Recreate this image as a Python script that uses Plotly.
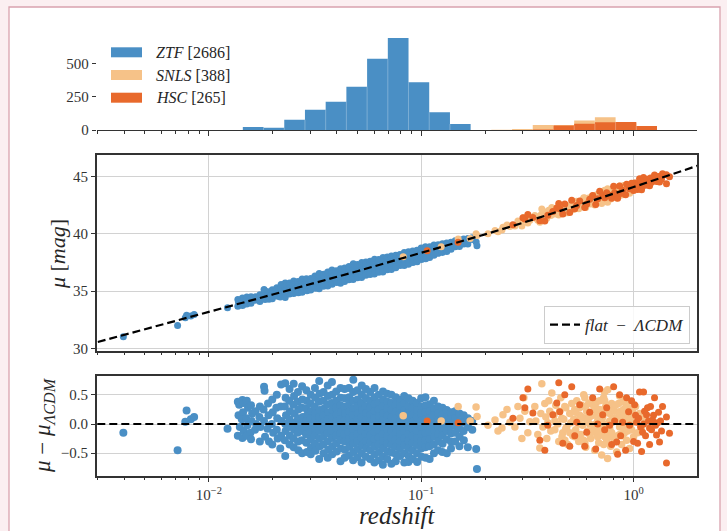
import plotly.graph_objects as go

# ---------------- data ----------------
survey_names = ["ZTF", "SNLS", "HSC"]
survey_totals = [2686, 388, 265]

# histogram bins (redshift edges) and counts per bin
hist_edges = [0.01446, 0.01810, 0.02266, 0.02836, 0.03550, 0.04444, 0.05563, 0.06964,
              0.08717, 0.1091, 0.1366, 0.1709, 0.2139, 0.2678, 0.3352, 0.4196,
              0.5252, 0.6573, 0.8228, 1.030, 1.289]
ztf_counts = [22, 17, 77, 152, 212, 325, 535, 690, 358, 133, 45, 0, 0, 0, 0, 0, 0, 0, 0, 0]
snls_counts = [0, 0, 0, 0, 0, 0, 0, 0, 0, 0, 0, 0, 2, 8, 37, 37, 72, 95, 55, 8]
hsc_counts = [0, 0, 0, 0, 0, 0, 0, 0, 0, 0, 0, 0, 0, 0, 3, 33, 47, 58, 60, 30]

# flat-LambdaCDM reference curve
model_z = [0.003, 0.005, 0.01, 0.02, 0.05, 0.1, 0.2, 0.3, 0.5, 0.7, 1.0, 1.5, 2.0]
model_mu = [30.55, 31.66, 33.18, 34.70, 36.74, 38.32, 39.96, 40.96, 42.26, 43.15, 44.10, 45.19, 45.96]
residual_reference = 0.0

ztf_z = [
    0.00396, 0.00713, 0.00786, 0.00775, 0.00823, 0.00853, 0.01225,
    0.0137, 0.0139, 0.0138, 0.0140, 0.0137,
    0.0144, 0.0146, 0.0145, 0.0143, 0.0146, 0.0144,
    0.0151, 0.0153, 0.0150, 0.0152, 0.0151,
    0.0158, 0.0160, 0.0159, 0.0157, 0.0158,
    0.0166, 0.0167, 0.0165,
    0.0174, 0.0173, 0.0175, 0.0174,
    0.0182, 0.0183, 0.0181, 0.0182, 0.0184,
    0.0190, 0.0191, 0.0189, 0.0192,
    0.0199, 0.0200, 0.0198, 0.0201, 0.0199,
    0.0209, 0.0208, 0.0210, 0.0209, 0.0211,
    0.0219, 0.0218, 0.0220, 0.0219, 0.0217,
    0.0229, 0.0230, 0.0228, 0.0231, 0.0229, 0.0230, 0.0228, 0.0229,
    0.0240, 0.0239, 0.0241, 0.0240, 0.0238, 0.0241, 0.0240,
    0.0251, 0.0252, 0.0250, 0.0253, 0.0251, 0.0252, 0.0250, 0.0251,
    0.0263, 0.0262, 0.0264, 0.0263, 0.0265, 0.0262, 0.0263, 0.0264,
    0.0275, 0.0276, 0.0274, 0.0277, 0.0275, 0.0276, 0.0274, 0.0275,
    0.0288, 0.0289, 0.0287, 0.0290, 0.0288, 0.0289, 0.0287, 0.0288, 0.0290,
    0.0302, 0.0301, 0.0303, 0.0302, 0.0304, 0.0301, 0.0302, 0.0303, 0.0302,
    0.0316, 0.0317, 0.0315, 0.0318, 0.0316, 0.0317, 0.0315, 0.0316, 0.0318,
    0.0331, 0.0332, 0.0330, 0.0333, 0.0331, 0.0332, 0.0330, 0.0331, 0.0333, 0.0331,
    0.0347, 0.0346, 0.0348, 0.0347, 0.0345, 0.0348, 0.0347, 0.0346, 0.0347,
    0.0363, 0.0364, 0.0362, 0.0365, 0.0363, 0.0364, 0.0362, 0.0363, 0.0365, 0.0363,
    0.0380, 0.0381, 0.0379, 0.0382, 0.0380, 0.0381, 0.0379, 0.0380, 0.0382, 0.0381,
    0.0398, 0.0399, 0.0397, 0.0400, 0.0398, 0.0399, 0.0397, 0.0398, 0.0400,
    0.0417, 0.0418, 0.0416, 0.0419, 0.0417, 0.0418, 0.0416, 0.0417, 0.0419, 0.0417,
    0.0436, 0.0437, 0.0435, 0.0438, 0.0436, 0.0437, 0.0435, 0.0436, 0.0438, 0.0436,
    0.0457, 0.0458, 0.0456, 0.0459, 0.0457, 0.0458, 0.0456, 0.0457, 0.0459, 0.0457,
    0.0479, 0.0478, 0.0480, 0.0479, 0.0477, 0.0480, 0.0479, 0.0478, 0.0480, 0.0479, 0.0478,
    0.0501, 0.0502, 0.0500, 0.0503, 0.0501, 0.0502, 0.0500, 0.0501, 0.0503, 0.0501,
    0.0525, 0.0526, 0.0524, 0.0527, 0.0525, 0.0526, 0.0524, 0.0525, 0.0527, 0.0525, 0.0524,
    0.0549, 0.0550, 0.0548, 0.0551, 0.0549, 0.0550, 0.0548, 0.0549, 0.0551, 0.0549,
    0.0575, 0.0576, 0.0574, 0.0577, 0.0575, 0.0576, 0.0574, 0.0575, 0.0577, 0.0575,
    0.0603, 0.0602, 0.0604, 0.0603, 0.0601, 0.0604, 0.0603, 0.0602, 0.0604, 0.0603, 0.0602,
    0.0631, 0.0632, 0.0630, 0.0633, 0.0631, 0.0632, 0.0630, 0.0631, 0.0633, 0.0631,
    0.0661, 0.0662, 0.0660, 0.0663, 0.0661, 0.0662, 0.0660, 0.0661, 0.0663, 0.0661, 0.0660,
    0.0692, 0.0693, 0.0691, 0.0694, 0.0692, 0.0693, 0.0691, 0.0692, 0.0694, 0.0692,
    0.0724, 0.0725, 0.0723, 0.0726, 0.0724, 0.0725, 0.0723, 0.0724, 0.0726, 0.0724,
    0.0759, 0.0758, 0.0760, 0.0759, 0.0757, 0.0760, 0.0759, 0.0758, 0.0760, 0.0759,
    0.0794, 0.0795, 0.0793, 0.0796, 0.0794, 0.0795, 0.0793, 0.0794, 0.0796,
    0.0832, 0.0833, 0.0831, 0.0834, 0.0832, 0.0833, 0.0831, 0.0832, 0.0834, 0.0832,
    0.0871, 0.0872, 0.0870, 0.0873, 0.0871, 0.0872, 0.0870, 0.0871, 0.0873, 0.0871,
    0.0912, 0.0913, 0.0911, 0.0914, 0.0912, 0.0913, 0.0911, 0.0912, 0.0914,
    0.0955, 0.0956, 0.0954, 0.0957, 0.0955, 0.0956, 0.0954, 0.0955, 0.0957,
    0.1000, 0.1002, 0.0998, 0.1003, 0.1000, 0.1002, 0.0998, 0.1000, 0.1003,
    0.1047, 0.1049, 0.1045, 0.1050, 0.1047, 0.1049, 0.1045, 0.1047, 0.1050,
    0.1096, 0.1098, 0.1094, 0.1099, 0.1096, 0.1098, 0.1094, 0.1096,
    0.1148, 0.1150, 0.1146, 0.1151, 0.1148, 0.1150, 0.1146, 0.1148,
    0.1202, 0.1204, 0.1200, 0.1205, 0.1202, 0.1204, 0.1200,
    0.1259, 0.1261, 0.1257, 0.1262, 0.1259, 0.1261, 0.1257,
    0.1318, 0.1320, 0.1316, 0.1321, 0.1318, 0.1320,
    0.1380, 0.1382, 0.1378, 0.1383, 0.1380, 0.1382,
    0.1445, 0.1447, 0.1443, 0.1448, 0.1445,
    0.1514, 0.1516, 0.1512, 0.1517, 0.1514,
    0.1585, 0.1587, 0.1583, 0.1588,
    0.1660, 0.1662, 0.1658,
    0.1738, 0.1740,
    0.1815, 0.1830,
]
ztf_res = [
    -0.15, -0.45, 0.23, 0.04, 0.08, 0.12, -0.08,
    0.38, 0.33, 0.15, -0.05, -0.20,
    0.41, 0.36, 0.20, 0.08, -0.12, -0.24,
    0.40, 0.28, 0.10, -0.02, -0.20,
    0.32, 0.18, 0.05, -0.15, -0.26,
    0.22, 0.00, -0.10,
    0.30, 0.12, -0.05, -0.30,
    0.64, 0.57, 0.25, 0.05, -0.22,
    0.35, 0.15, -0.08, -0.30,
    0.42, 0.20, 0.00, -0.15, -0.35,
    0.50, 0.28, 0.10, -0.10, -0.25,
    0.68, 0.30, 0.05, -0.20, -0.42,
    0.70, 0.45, 0.30, 0.15, 0.00, -0.12, -0.28, -0.55,
    0.60, 0.40, 0.22, 0.08, -0.05, -0.20, -0.35,
    0.69, 0.48, 0.33, 0.18, 0.02, -0.10, -0.25, -0.40,
    0.55, 0.38, 0.25, 0.10, -0.02, -0.15, -0.30, -0.45,
    0.65, 0.42, 0.28, 0.12, 0.00, -0.12, -0.28, -0.50,
    0.58, 0.40, 0.27, 0.15, 0.05, -0.06, -0.18, -0.32, -0.48,
    0.50, 0.35, 0.22, 0.10, -0.02, -0.14, -0.26, -0.40, -0.52,
    0.62, 0.45, 0.30, 0.18, 0.06, -0.08, -0.20, -0.34, -0.46,
    0.74, 0.52, 0.38, 0.24, 0.12, 0.00, -0.12, -0.25, -0.38, -0.60,
    0.55, 0.40, 0.26, 0.14, 0.02, -0.10, -0.22, -0.35, -0.50,
    0.66, 0.48, 0.34, 0.20, 0.08, -0.04, -0.16, -0.30, -0.44, -0.58,
    0.72, 0.50, 0.36, 0.24, 0.12, 0.00, -0.12, -0.24, -0.38, -0.52,
    0.56, 0.40, 0.28, 0.16, 0.04, -0.08, -0.20, -0.33, -0.47,
    0.62, 0.45, 0.32, 0.20, 0.08, -0.04, -0.16, -0.28, -0.42, -0.64,
    0.60, 0.44, 0.30, 0.18, 0.06, -0.06, -0.18, -0.30, -0.44, -0.58,
    0.62, 0.46, 0.33, 0.21, 0.10, -0.02, -0.14, -0.26, -0.39, -0.54,
    0.76, 0.55, 0.40, 0.27, 0.15, 0.03, -0.09, -0.21, -0.34, -0.48, -0.62,
    0.58, 0.42, 0.30, 0.18, 0.06, -0.06, -0.18, -0.30, -0.43, -0.57,
    0.66, 0.50, 0.36, 0.24, 0.12, 0.00, -0.12, -0.24, -0.37, -0.50, -0.66,
    0.60, 0.44, 0.31, 0.19, 0.07, -0.05, -0.17, -0.29, -0.42, -0.56,
    0.55, 0.40, 0.28, 0.16, 0.04, -0.08, -0.20, -0.32, -0.45, -0.60,
    0.62, 0.46, 0.34, 0.22, 0.10, -0.02, -0.14, -0.26, -0.38, -0.52, -0.66,
    0.50, 0.37, 0.25, 0.13, 0.01, -0.11, -0.23, -0.35, -0.48, -0.62,
    0.56, 0.42, 0.30, 0.18, 0.06, -0.06, -0.18, -0.30, -0.42, -0.56, -0.70,
    0.52, 0.38, 0.26, 0.14, 0.02, -0.10, -0.22, -0.34, -0.47, -0.60,
    0.50, 0.36, 0.24, 0.12, 0.00, -0.12, -0.24, -0.36, -0.49, -0.68,
    0.46, 0.33, 0.21, 0.09, -0.03, -0.15, -0.27, -0.39, -0.52, -0.64,
    0.42, 0.30, 0.18, 0.06, -0.06, -0.18, -0.30, -0.42, -0.55,
    0.48, 0.35, 0.23, 0.11, -0.01, -0.13, -0.25, -0.37, -0.50, -0.66,
    0.44, 0.31, 0.19, 0.07, -0.05, -0.17, -0.29, -0.41, -0.55, -0.65,
    0.40, 0.28, 0.16, 0.04, -0.08, -0.20, -0.32, -0.45, -0.60,
    0.36, 0.24, 0.12, 0.00, -0.12, -0.24, -0.36, -0.50, -0.65,
    0.44, 0.30, 0.18, 0.06, -0.06, -0.18, -0.30, -0.42, -0.56,
    0.46, 0.32, 0.20, 0.08, -0.04, -0.16, -0.28, -0.40, -0.58,
    0.34, 0.22, 0.10, -0.02, -0.14, -0.26, -0.38, -0.60,
    0.40, 0.26, 0.14, 0.02, -0.10, -0.22, -0.35, -0.50,
    0.30, 0.18, 0.06, -0.06, -0.18, -0.30, -0.45,
    0.28, 0.16, 0.04, -0.08, -0.20, -0.34, -0.48,
    0.24, 0.12, 0.00, -0.12, -0.26, -0.50,
    0.20, 0.08, -0.04, -0.16, -0.30, -0.42,
    0.22, 0.10, -0.02, -0.15, -0.30,
    0.18, 0.05, -0.08, -0.22, -0.38,
    0.15, 0.02, -0.12, -0.28,
    0.10, -0.05, -0.40,
    0.05, -0.10,
    -0.43, -0.77,
]
ztf_mu = [
    31.01, 31.99, 32.88, 32.66, 32.83, 32.95, 33.54,
    34.26, 34.21, 34.03, 33.83, 33.68,
    34.39, 34.34, 34.18, 34.06, 33.86, 33.74,
    34.48, 34.36, 34.18, 34.06, 33.88,
    34.51, 34.37, 34.24, 34.04, 33.93,
    34.51, 34.29, 34.19,
    34.69, 34.51, 34.34, 34.09,
    35.13, 35.06, 34.74, 34.54, 34.27,
    34.94, 34.74, 34.51, 34.29,
    35.11, 34.89, 34.69, 34.54, 34.34,
    35.29, 35.07, 34.89, 34.69, 34.54,
    35.58, 35.20, 34.95, 34.70, 34.48,
    35.70, 35.45, 35.30, 35.15, 35.00, 34.88, 34.72, 34.45,
    35.70, 35.50, 35.32, 35.18, 35.05, 34.90, 34.75,
    35.89, 35.68, 35.53, 35.38, 35.22, 35.10, 34.95, 34.80,
    35.85, 35.68, 35.55, 35.40, 35.28, 35.15, 35.00, 34.85,
    36.05, 35.82, 35.68, 35.52, 35.40, 35.28, 35.12, 34.90,
    36.09, 35.91, 35.78, 35.66, 35.56, 35.45, 35.33, 35.19, 35.03,
    36.11, 35.96, 35.83, 35.71, 35.59, 35.47, 35.35, 35.21, 35.09,
    36.33, 36.16, 36.01, 35.89, 35.77, 35.63, 35.51, 35.37, 35.25,
    36.55, 36.33, 36.19, 36.05, 35.93, 35.81, 35.69, 35.56, 35.43, 35.21,
    36.47, 36.32, 36.18, 36.06, 35.94, 35.82, 35.70, 35.57, 35.42,
    36.68, 36.50, 36.36, 36.22, 36.10, 35.98, 35.86, 35.72, 35.58, 35.44,
    36.84, 36.62, 36.48, 36.36, 36.24, 36.12, 36.00, 35.88, 35.74, 35.60,
    36.78, 36.62, 36.50, 36.38, 36.26, 36.14, 36.02, 35.89, 35.75,
    36.95, 36.78, 36.65, 36.53, 36.41, 36.29, 36.17, 36.05, 35.91, 35.69,
    37.03, 36.87, 36.73, 36.61, 36.49, 36.37, 36.25, 36.13, 35.99, 35.85,
    37.15, 36.99, 36.86, 36.74, 36.63, 36.51, 36.39, 36.27, 36.14, 35.99,
    37.40, 37.19, 37.04, 36.91, 36.79, 36.67, 36.55, 36.43, 36.30, 36.16, 36.02,
    37.32, 37.16, 37.04, 36.92, 36.80, 36.68, 36.56, 36.44, 36.31, 36.17,
    37.50, 37.34, 37.20, 37.08, 36.96, 36.84, 36.72, 36.60, 36.47, 36.34, 36.18,
    37.55, 37.39, 37.26, 37.14, 37.02, 36.90, 36.78, 36.66, 36.53, 36.39,
    37.60, 37.45, 37.33, 37.21, 37.09, 36.97, 36.85, 36.73, 36.60, 36.45,
    37.78, 37.62, 37.50, 37.38, 37.26, 37.14, 37.02, 36.90, 36.78, 36.64, 36.50,
    37.76, 37.63, 37.51, 37.39, 37.27, 37.15, 37.03, 36.91, 36.78, 36.64,
    37.93, 37.79, 37.67, 37.55, 37.43, 37.31, 37.19, 37.07, 36.95, 36.81, 36.67,
    37.99, 37.85, 37.73, 37.61, 37.49, 37.37, 37.25, 37.13, 37.00, 36.87,
    38.08, 37.94, 37.82, 37.70, 37.58, 37.46, 37.34, 37.22, 37.09, 36.90,
    38.14, 38.01, 37.89, 37.77, 37.65, 37.53, 37.41, 37.29, 37.16, 37.04,
    38.21, 38.09, 37.97, 37.85, 37.73, 37.61, 37.49, 37.37, 37.24,
    38.37, 38.24, 38.12, 38.00, 37.88, 37.76, 37.64, 37.52, 37.39, 37.23,
    38.44, 38.31, 38.19, 38.07, 37.95, 37.83, 37.71, 37.59, 37.45, 37.35,
    38.50, 38.38, 38.26, 38.14, 38.02, 37.90, 37.78, 37.65, 37.50,
    38.57, 38.45, 38.33, 38.21, 38.09, 37.97, 37.85, 37.71, 37.56,
    38.76, 38.62, 38.50, 38.38, 38.26, 38.14, 38.02, 37.90, 37.76,
    38.88, 38.74, 38.62, 38.50, 38.38, 38.26, 38.14, 38.02, 37.84,
    38.87, 38.75, 38.63, 38.51, 38.39, 38.27, 38.15, 37.93,
    39.04, 38.90, 38.78, 38.66, 38.54, 38.42, 38.29, 38.14,
    39.05, 38.93, 38.81, 38.69, 38.57, 38.45, 38.30,
    39.13, 39.01, 38.89, 38.77, 38.65, 38.51, 38.37,
    39.20, 39.08, 38.96, 38.84, 38.70, 38.46,
    39.27, 39.15, 39.03, 38.91, 38.77, 38.65,
    39.40, 39.28, 39.16, 39.03, 38.88,
    39.47, 39.34, 39.21, 39.07, 38.91,
    39.55, 39.42, 39.28, 39.12,
    39.61, 39.46, 39.11,
    39.67, 39.52,
    39.30, 38.96,
]

snls_z = [
    0.0823, 0.1242, 0.1493, 0.1700, 0.1813, 0.1833, 0.2063,
    0.2226, 0.2426, 0.2400, 0.2617, 0.2535, 0.2300,
    0.2916, 0.2762, 0.3077, 0.3178, 0.2854, 0.3248, 0.2979, 0.3043,
    0.3428, 0.3466, 0.3541, 0.3619, 0.3659, 0.3698, 0.3739, 0.3820, 0.3862, 0.3904,
    0.3946, 0.4032, 0.4076, 0.4121, 0.3989,
    0.4210, 0.4256, 0.4302, 0.4396, 0.4444, 0.4492, 0.4541, 0.4642, 0.4692, 0.4743,
    0.4847, 0.4899, 0.5006, 0.5061, 0.5168,
    0.5284, 0.5341, 0.5399, 0.5458, 0.5517, 0.5577, 0.5638, 0.5699, 0.5761, 0.5824,
    0.5888, 0.5951, 0.6016, 0.6081, 0.6147, 0.6214, 0.6282, 0.6350, 0.6419, 0.6489,
    0.5290, 0.5571, 0.5895, 0.6208, 0.6495,
    0.6560, 0.6632, 0.6704, 0.6777, 0.6850, 0.6925, 0.7000, 0.7076, 0.7153, 0.7231,
    0.7309, 0.7389, 0.7469, 0.7550, 0.7545, 0.7632, 0.7715, 0.7799, 0.7883, 0.7969,
    0.8056, 0.8143, 0.6638, 0.6845, 0.7082, 0.7315, 0.7463, 0.7721, 0.7877, 0.8322,
    0.8232, 0.8411, 0.8503, 0.8597, 0.8690, 0.8785, 0.8880, 0.8977, 0.9072, 0.9171,
    0.9271, 0.9372, 0.9474, 0.9576, 0.9681, 0.9786, 0.9892, 1.0000, 0.8590, 0.8886,
    0.9165, 0.9480,
    1.0219, 1.0330, 1.0443, 1.0671, 1.0905, 1.1262,
    0.4592, 0.4600, 0.4795, 0.4790, 0.5010, 0.5114, 0.5227, 0.5345, 0.5462, 0.5581,
    0.5703, 0.5820, 0.5955, 0.6085, 0.6218, 0.6354, 0.6485, 0.6636, 0.6781, 0.6773,
    0.6929, 0.6921, 0.7080, 0.7235, 0.7227, 0.7393, 0.7554, 0.7546, 0.7719, 0.7887,
    0.7879, 0.8060, 0.8236, 0.8228, 0.8415, 0.8601, 0.8593, 0.8789, 0.8981, 0.8973,
    0.9175, 0.9376, 0.9368, 0.9580, 0.9790, 0.5892, 0.6565, 0.7305, 0.4747, 0.4260,
]
snls_res = [
    0.14, 0.05, 0.30, 0.05, 0.29, 0.13, -0.02,
    0.07, 0.16, -0.07, 0.03, 0.25, -0.12,
    0.10, -0.05, 0.22, -0.15, 0.30, 0.04, -0.25, 0.45,
    0.30, 0.05, -0.18, -0.41, 0.18, 0.69, -0.05, 0.35, 0.12, -0.25,
    0.02, 0.22, -0.12, 0.53, 0.40,
    0.15, -0.10, 0.32, 0.00, -0.30, 0.22, 0.45, -0.15, 0.08, 0.30,
    -0.05, -0.35, 0.18, 0.02, -0.20,
    0.25, -0.10, 0.40, 0.05, -0.30, 0.15, -0.18, 0.32, -0.02, 0.50,
    0.10, -0.40, 0.22, -0.12, 0.35, 0.00, -0.25, 0.18, 0.42, -0.08,
    -0.22, 0.28, -0.33, 0.12, 0.30,
    0.20, -0.15, 0.38, 0.05, -0.32, 0.25, -0.05, -0.53, 0.12, 0.45,
    -0.22, 0.30, 0.00, 0.59, -0.59, -0.12, 0.18, -0.38, 0.35, 0.08,
    -0.25, 0.22, 0.28, 0.10, -0.18, 0.40, -0.30, -0.08, 0.02, -0.48,
    0.10, -0.20, 0.35, -0.05, 0.22, -0.35, 0.05, 0.42, -0.15, 0.15,
    -0.28, 0.30, 0.00, -0.42, 0.12, -0.10, 0.25, -0.22, 0.48, -0.20,
    -0.05, 0.20,
    0.30, 0.05, -0.15, 0.18, -0.05, 0.10,
    0.10, -0.22, 0.28, -0.08, -0.15, 0.35, 0.08, 0.20, -0.20, 0.00,
    0.12, -0.28, 0.30, 0.05, -0.18, 0.38, 0.15, 0.00, 0.22, -0.22,
    -0.12, 0.40, 0.08, -0.35, 0.18, -0.02, 0.25, -0.22, 0.05, -0.15,
    0.28, 0.10, -0.30, 0.32, 0.05, -0.18, 0.18, 0.10, -0.08, 0.25,
    0.35, -0.12, 0.08, 0.22, 0.02, 0.45, -0.45, 0.55, -0.28, 0.05,
]
snls_mu = [
    38.01, 38.87, 39.56, 39.61, 40.01, 39.87, 40.02,
    40.29, 40.59, 40.34, 40.65, 40.79, 40.18,
    40.99, 40.70, 41.24, 40.95, 41.13, 41.20, 40.69, 41.44,
    41.60, 41.38, 41.20, 41.03, 41.65, 42.18, 41.47, 41.92, 41.72, 41.38,
    41.67, 41.93, 41.62, 42.30, 42.08,
    41.97, 41.75, 42.20, 41.93, 41.66, 42.21, 42.47, 41.92, 42.18, 42.42,
    42.13, 41.86, 42.44, 42.31, 42.14,
    42.65, 42.33, 42.86, 42.54, 42.21, 42.69, 42.39, 42.92, 42.61, 43.16,
    42.79, 42.32, 42.97, 42.65, 43.15, 42.83, 42.61, 43.07, 43.34, 42.87,
    42.18, 42.82, 42.36, 42.95, 43.25,
    43.18, 42.86, 43.42, 43.12, 42.77, 43.37, 43.10, 42.65, 43.33, 43.69,
    43.04, 43.59, 43.32, 43.94, 42.76, 43.26, 43.59, 43.06, 43.82, 43.58,
    43.27, 43.77, 43.29, 43.19, 43.00, 43.66, 43.02, 43.33, 43.49, 43.13,
    43.68, 43.44, 44.02, 43.65, 43.95, 43.41, 43.83, 44.23, 43.69, 44.02,
    43.62, 44.23, 43.95, 43.56, 44.13, 43.94, 44.32, 43.88, 44.18, 43.58,
    43.82, 44.15,
    44.46, 44.24, 44.06, 44.45, 44.28, 44.52,
    42.14, 41.82, 42.43, 42.07, 42.11, 42.66, 42.45, 42.63, 42.29, 42.54,
    42.72, 42.38, 43.02, 42.82, 42.65, 43.27, 43.10, 43.01, 43.29, 42.85,
    43.00, 43.52, 43.26, 42.89, 43.42, 43.27, 43.60, 43.13, 43.46, 43.32,
    43.75, 43.62, 43.28, 43.90, 43.69, 43.52, 43.88, 43.86, 43.73, 44.06,
    44.22, 43.81, 44.01, 44.20, 44.06, 43.14, 42.53, 43.81, 41.84, 41.90,
]

hsc_z = [
    0.1067, 0.1492, 0.2703, 0.3013, 0.3077, 0.3178, 0.3355, 0.3619, 0.3820, 0.3946,
    0.4166, 0.4349, 0.4444, 0.4492, 0.4642, 0.4743, 0.5006, 0.5114, 0.5284, 0.5399,
    0.5577, 0.5888, 0.6016, 0.6214, 0.6419, 0.6632, 0.6925, 0.7153, 0.7469, 0.7715,
    0.7883, 0.8056, 0.8322, 0.8411, 0.8597, 0.8880, 0.9171, 0.9271, 0.9474, 0.9576,
    1.0000, 1.0110, 1.0219, 1.0330, 1.0443, 1.0556, 1.0671, 1.0787, 1.0905, 1.1023,
    1.1142, 1.1150, 1.1262, 1.1384, 1.1508, 1.1632, 1.1759, 1.1890, 1.1895, 1.2017,
    1.2148, 1.2280, 1.2414, 1.2550, 1.2687, 1.2823, 1.2964, 1.3105, 1.3250, 1.3392,
    1.3538, 1.3686, 1.4287, 1.4280, 1.4760,
    0.7309, 0.8143, 0.9786, 0.8690, 0.6777,
]
hsc_res = [
    0.05, 0.02, 0.10, 0.45, 0.28, 0.60, 0.19, -0.28, -0.45, -0.02,
    0.16, 0.36, 0.71, 0.21, -0.33, 0.50, -0.38, 0.64, -0.20, 0.03,
    0.33, -0.38, -0.14, 0.20, 0.45, -0.43, 0.60, 0.16, 0.28, -0.02,
    -0.35, 0.64, -0.31, -0.52, 0.50, 0.03, -0.45, 0.45, 0.21, -0.02,
    -0.30, 0.33, 0.15, 0.03, -0.33, 0.10, 0.55, -0.05, -0.47, -0.14,
    0.55, 0.00, 0.22, -0.20, 0.16, 0.28, 0.05, -0.07, -0.35, 0.30,
    -0.10, 0.07, 0.15, 0.45, -0.02, -0.19, 0.02, 0.20, -0.31, 0.05,
    -0.12, 0.30, -0.67, 0.12, -0.16,
    -0.10, 0.05, 0.40, -0.20, 0.00,
]
hsc_mu = [
    38.52, 39.27, 40.80, 41.42, 41.30, 41.70, 41.43, 41.16, 41.12, 41.63,
    41.95, 42.26, 42.67, 42.20, 41.74, 42.62, 41.88, 42.95, 42.20, 42.49,
    42.87, 42.31, 42.61, 43.03, 43.37, 42.58, 43.72, 43.37, 43.60, 43.39,
    43.12, 44.16, 43.30, 43.12, 44.20, 43.81, 43.42, 44.35, 44.16, 43.96,
    43.80, 44.46, 44.31, 44.22, 43.88, 44.34, 44.82, 44.25, 43.86, 44.22,
    44.94, 44.39, 44.64, 44.25, 44.64, 44.79, 44.59, 44.49, 44.21, 44.89,
    44.52, 44.72, 44.83, 45.16, 44.72, 44.58, 44.82, 45.03, 44.55, 44.94,
    44.80, 45.25, 44.39, 45.18, 44.99,
    43.16, 43.60, 44.44, 43.53, 43.07,
]

for a, b, c in [(ztf_z, ztf_res, ztf_mu), (snls_z, snls_res, snls_mu), (hsc_z, hsc_res, hsc_mu)]:
    assert len(a) == len(b) == len(c), (len(a), len(b), len(c))

# ---------------- styling ----------------
W, H = 727, 531
C_ZTF = "#4a8fc5"
C_SNLS = "#f6c288"
C_HSC = "#e8692c"
colors = [C_ZTF, C_SNLS, C_HSC]
AXC = "#333333"
GRID = "#d2d2d2"
SERIF = "Liberation Serif"
TICKFONT = dict(family=SERIF, size=15, color="#333333")
MS = 7
MS_RES = {"ZTF": 8, "SNLS": 7.5, "HSC": 7}
DASH = "8px,4px"


def fx(p):
    return p / W


def fy(p):
    return 1 - p / H


X_DOM = [fx(97.3), fx(697.3)]
X_RANGE = [-2.525, 0.300]
HIST_DOM = [fy(130), fy(30)]
MAIN_DOM = [fy(350.7), fy(155)]
RES_DOM = [fy(475.7), fy(375.7)]

minor_vals = [m * 10.0 ** e for e in range(-3, 1) for m in range(2, 10)]


def step_xy(counts):
    nz = [i for i, c in enumerate(counts) if c > 0]
    i0, i1 = nz[0], nz[-1]
    xs = hist_edges[i0:i1 + 2]
    ys = counts[i0:i1 + 1] + [counts[i1]]
    return xs, ys


def separators(counts):
    # faint bar borders between adjacent non-empty bins
    xs, ys = [], []
    for i in range(1, len(counts)):
        h = min(counts[i - 1], counts[i])
        if h > 0:
            xs += [hist_edges[i], hist_edges[i], None]
            ys += [0, h, None]
    return xs, ys


fig = go.Figure()

# histogram panel
for counts, col in zip([ztf_counts, snls_counts, hsc_counts], colors):
    xs, ys = step_xy(counts)
    fig.add_trace(go.Scatter(x=xs, y=ys, mode="lines", line=dict(shape="hv", width=0, color=col),
                             fill="tozeroy", fillcolor=col, xaxis="x", yaxis="y",
                             showlegend=False, hoverinfo="skip"))
    sx, sy = separators(counts)
    fig.add_trace(go.Scatter(x=sx, y=sy, mode="lines", line=dict(width=0.8, color="rgba(255,255,255,0.35)"),
                             xaxis="x", yaxis="y", showlegend=False, hoverinfo="skip"))

# Hubble diagram
for zs, mus, col in [(ztf_z, ztf_mu, C_ZTF), (snls_z, snls_mu, C_SNLS), (hsc_z, hsc_mu, C_HSC)]:
    fig.add_trace(go.Scatter(x=zs, y=mus, mode="markers", marker=dict(size=MS, color=col, line=dict(width=0)),
                             xaxis="x2", yaxis="y2", showlegend=False, hoverinfo="skip"))
fig.add_trace(go.Scatter(x=model_z, y=model_mu, mode="lines",
                         line=dict(color="black", width=2.2, dash=DASH),
                         name="<i>flat</i>\u2002−\u2002<i>ΛCDM</i>", xaxis="x2", yaxis="y2", showlegend=True))

# residuals
for name, zs, rs, col in [("ZTF", ztf_z, ztf_res, C_ZTF), ("SNLS", snls_z, snls_res, C_SNLS),
                          ("HSC", hsc_z, hsc_res, C_HSC)]:
    fig.add_trace(go.Scatter(x=zs, y=rs, mode="markers",
                             marker=dict(size=MS_RES[name], color=col, line=dict(width=0)),
                             xaxis="x3", yaxis="y3", showlegend=False, hoverinfo="skip"))


def xaxis(anchor, labels, grid, line_all):
    d = dict(type="log", range=X_RANGE, domain=X_DOM, anchor=anchor, automargin=False,
             tickmode="array", tickvals=[0.01, 0.1, 1],
             ticktext=["10<sup>−2</sup>", "10<sup>−1</sup>", "10<sup>0</sup>"],
             showticklabels=labels, ticks="outside", ticklen=4.5, tickwidth=1.2, tickcolor=AXC,
             tickfont=TICKFONT, showgrid=grid, gridcolor=GRID, gridwidth=1, zeroline=False,
             showline=True, linecolor=AXC, linewidth=1.6 if line_all else 1.3,
             mirror=line_all,
             minor=dict(tickmode="array", tickvals=minor_vals, ticks="outside", ticklen=2.5,
                        tickwidth=1, tickcolor=AXC, showgrid=False))
    return d


frame = dict(showline=True, linecolor=AXC, linewidth=1.6, mirror=True)

fig.update_layout(
    template="none",
    width=W, height=H, autosize=False,
    margin=dict(l=0, r=0, t=0, b=0, pad=0, autoexpand=False),
    paper_bgcolor="#fbeff1", plot_bgcolor="white",
    font=dict(family=SERIF, color="#262626"),
    xaxis=xaxis("y", False, False, False),
    yaxis=dict(domain=HIST_DOM, range=[0, 750], anchor="x", automargin=False, tickmode="array",
               tickvals=[0, 250, 500], ticktext=["0", "250", "500"], ticks="outside", ticklen=4.5,
               tickwidth=1.2, tickcolor=AXC, tickfont=TICKFONT, showgrid=False, zeroline=False,
               showline=False),
    xaxis2=xaxis("y2", False, True, True),
    yaxis2=dict(domain=MAIN_DOM, range=[29.79, 46.90], anchor="x2", automargin=False, tickmode="array",
                tickvals=[30, 35, 40, 45], ticks="outside", ticklen=4.5, tickwidth=1.2, tickcolor=AXC,
                tickfont=TICKFONT, showgrid=True, gridcolor=GRID, gridwidth=1, zeroline=False, **frame),
    xaxis3=xaxis("y3", True, True, True),
    yaxis3=dict(domain=RES_DOM, range=[-0.887, 0.829], anchor="x3", automargin=False, tickmode="array",
                tickvals=[-0.5, 0.0, 0.5], ticktext=["−0.5", "0.0", "0.5"], ticks="outside",
                ticklen=4.5, tickwidth=1.2, tickcolor=AXC, tickfont=TICKFONT,
                showgrid=True, gridcolor=GRID, gridwidth=1, zeroline=False, **frame),
    showlegend=True,
    legend=dict(x=fx(690), xanchor="right", y=fy(344), yanchor="bottom",
                bgcolor="rgba(255,255,255,0.85)", bordercolor="#cccccc", borderwidth=1,
                font=dict(family=SERIF, size=17, color="#262626"),
                itemwidth=30, tracegroupgap=0),
)

shapes = [
    # white page with thin rose border (as in the screenshot frame)
    dict(type="rect", xref="paper", yref="paper", x0=fx(9), x1=fx(720), y0=-0.05, y1=fy(7),
         fillcolor="white", line=dict(color="#d9a3ae", width=1.3), layer="below"),
    # residual zero reference
    dict(type="line", xref="x3 domain", x0=0, x1=1, yref="y3", y0=residual_reference, y1=residual_reference,
         line=dict(color="black", width=2.2, dash=DASH), layer="above"),
]
annotations = []
legend_rows = [52.3, 75.0, 97.7]
for name, total, col, ry in zip(survey_names, survey_totals, colors, legend_rows):
    shapes.append(dict(type="rect", xref="paper", yref="paper", x0=fx(111), x1=fx(142),
                       y0=fy(ry + 5), y1=fy(ry - 5), fillcolor=col, line=dict(width=0)))
    annotations.append(dict(xref="paper", yref="paper", x=fx(154), y=fy(ry), xanchor="left", yanchor="middle",
                            text=f"<i>{name}</i> [{total}]", showarrow=False,
                            font=dict(family=SERIF, size=16, color="#262626")))

annotations += [
    dict(xref="paper", yref="paper", x=fx(57), y=fy(254), text="<i>μ</i> [<i>mag</i>]", textangle=-90,
         showarrow=False, xanchor="center", yanchor="middle", font=dict(family=SERIF, size=22, color="#262626")),
    dict(xref="paper", yref="paper", x=fx(44), y=fy(425), text="<i>μ</i> − <i>μ</i><sub><i>ΛCDM</i></sub>",
         textangle=-90, showarrow=False, xanchor="center", yanchor="middle",
         font=dict(family=SERIF, size=23, color="#262626")),
    dict(xref="paper", yref="paper", x=fx(397), y=fy(515), text="<i>redshift</i>", showarrow=False,
         xanchor="center", yanchor="middle", font=dict(family=SERIF, size=25, color="#262626")),
]
fig.update_layout(shapes=shapes, annotations=annotations)

fig.write_html("out.html", config={"displayModeBar": False},
               post_script="document.body.style.margin='0';document.body.style.overflow='hidden';")
